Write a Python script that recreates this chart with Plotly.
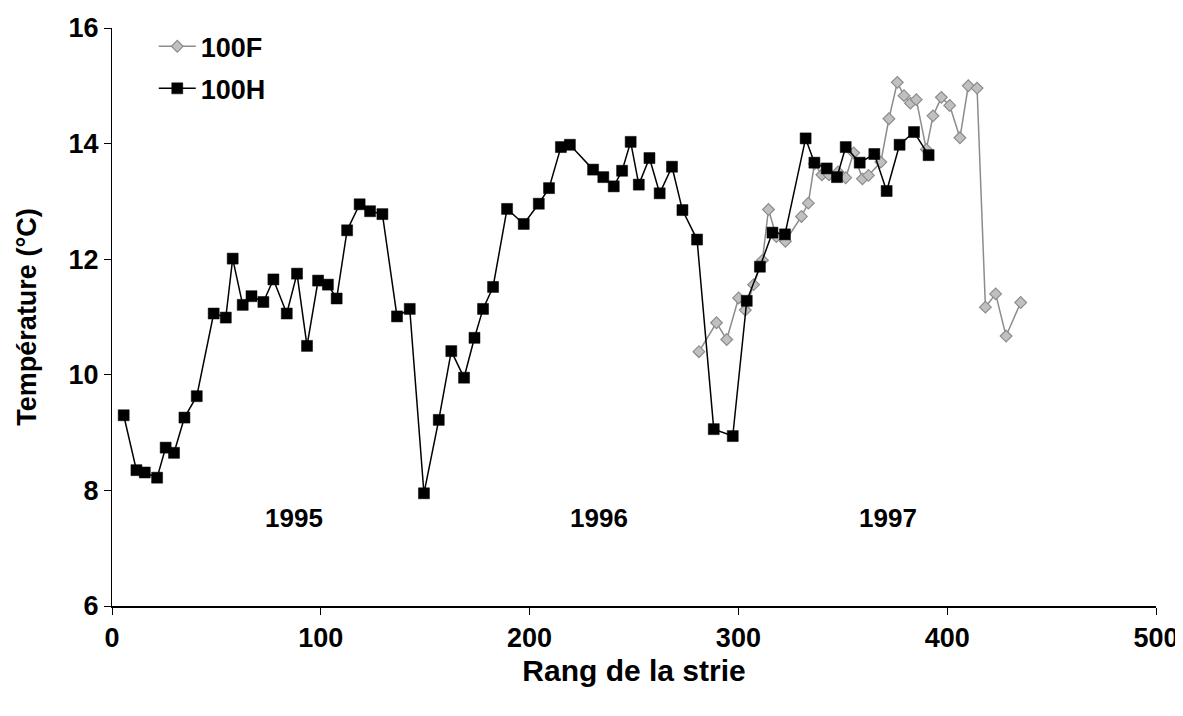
import plotly.graph_objects as go

# 100H series (black squares)
h_x = [5.6, 11.7, 15.7, 21.6, 25.7, 29.7, 34.7, 40.6, 48.7, 54.5, 57.8, 62.6, 66.8, 72.5,
       77.3, 83.7, 88.6, 93.4, 98.7, 103.4, 107.6, 112.6, 118.6, 123.6, 129.5, 136.5, 142.6,
       149.4, 156.5, 162.5, 168.6, 173.6, 177.7, 182.5, 189.2, 197.2, 204.4, 209.3, 215.0,
       219.3, 230.4, 235.3, 240.3, 244.3, 248.4, 252.3, 257.4, 262.3, 268.2, 273.2, 280.2,
       288.2, 297.3, 304.0, 310.3, 316.3, 322.3, 332.2, 336.4, 342.3, 347.2, 351.4, 358.1,
       365.1, 371.0, 377.2, 384.1, 391.1]
h_y = [9.30, 8.35, 8.31, 8.22, 8.74, 8.65, 9.26, 9.63, 11.06, 10.99, 12.01, 11.21, 11.36, 11.26,
       11.65, 11.06, 11.75, 10.50, 11.63, 11.56, 11.32, 12.50, 12.95, 12.83, 12.78, 11.01, 11.14,
       7.95, 9.22, 10.41, 9.95, 10.64, 11.14, 11.52, 12.87, 12.61, 12.96, 13.23, 13.94,
       13.98, 13.55, 13.42, 13.26, 13.53, 14.03, 13.29, 13.75, 13.14, 13.60, 12.85, 12.34,
       9.06, 8.94, 11.28, 11.87, 12.46, 12.43, 14.09, 13.67, 13.57, 13.42, 13.94, 13.67,
       13.82, 13.18, 13.98, 14.20, 13.80]

# 100F series (grey diamonds)
f_x = [281.1, 289.5, 294.4, 300.1, 303.3, 307.3, 311.5, 314.4, 318.2, 322.5, 330.2, 333.5,
       336.4, 340.0, 343.4, 347.7, 351.4, 355.2, 359.4, 362.3, 368.2, 372.1, 376.1, 379.3,
       382.4, 385.2, 390.0, 393.2, 397.2, 401.2, 406.1, 410.1, 414.3, 418.3, 423.2, 428.2, 435.2]
f_y = [10.40, 10.90, 10.61, 11.33, 11.12, 11.56, 11.98, 12.86, 12.39, 12.31, 12.74, 12.97,
       13.65, 13.46, 13.46, 13.51, 13.41, 13.84, 13.39, 13.45, 13.68, 14.43, 15.06, 14.83,
       14.70, 14.76, 13.90, 14.48, 14.80, 14.66, 14.10, 15.00, 14.96, 11.17, 11.40, 10.67, 11.25]

year_labels = ["1995", "1996", "1997"]
year_x = [87.3, 233.0, 371.5]
year_y = [7.53, 7.53, 7.53]

FONT = "Liberation Sans, Arial, sans-serif"

fig = go.Figure()
fig.add_trace(go.Scatter(
    x=f_x, y=f_y, name="100F", mode="lines+markers", legendgroup="f",
    line=dict(color="#8c8c8c", width=1.5),
    marker=dict(symbol="diamond", size=9, color="#c0c0c0",
                line=dict(color="#8c8c8c", width=1.2)),
))
fig.add_trace(go.Scatter(
    x=h_x, y=h_y, name="100H", mode="lines+markers", legendgroup="h",
    line=dict(color="#000000", width=1.5),
    marker=dict(symbol="square", size=11, color="#000000",
                line=dict(color="#000000", width=0.5)),
))

for t, xx, yy in zip(year_labels, year_x, year_y):
    fig.add_annotation(x=xx, y=yy, text=t, showarrow=False,
                       font=dict(family=FONT, size=26, color="#000", weight="bold"))

fig.update_layout(
    width=1175, height=708,
    margin=dict(l=104, r=27, t=20, b=110),
    paper_bgcolor="white", plot_bgcolor="white",
    font=dict(family=FONT, size=26, color="#000", weight="bold"),
    showlegend=True,
    legend=dict(x=0.04, y=1.01, xanchor="left", yanchor="top",
                bgcolor="rgba(0,0,0,0)",
                font=dict(family=FONT, size=27, color="#000", weight="bold"),
                itemwidth=37, tracegroupgap=4),
    xaxis=dict(range=[0, 500], tickvals=[0, 100, 200, 300, 400, 500], automargin=False,
               showgrid=False, zeroline=False, showline=True, linecolor="#000", linewidth=1.5,
               ticks="outside", ticklen=7, tickcolor="#000", tickwidth=1,
               tickfont=dict(family=FONT, size=27, color="#000", weight="bold"),
               title=dict(text="Rang de la strie", standoff=8,
                          font=dict(family=FONT, size=30, color="#000", weight="bold"))),
    yaxis=dict(range=[6, 16], tickvals=[6, 8, 10, 12, 14, 16], automargin=False,
               showgrid=False, zeroline=False, showline=True, linecolor="#000", linewidth=1,
               ticks="outside", ticklen=7, tickcolor="#000", tickwidth=1,
               tickfont=dict(family=FONT, size=27, color="#000", weight="bold"),
               title=dict(text="Température (°C)", standoff=24,
                          font=dict(family=FONT, size=27, color="#000", weight="bold"))),
)

fig.write_html("out.html")
